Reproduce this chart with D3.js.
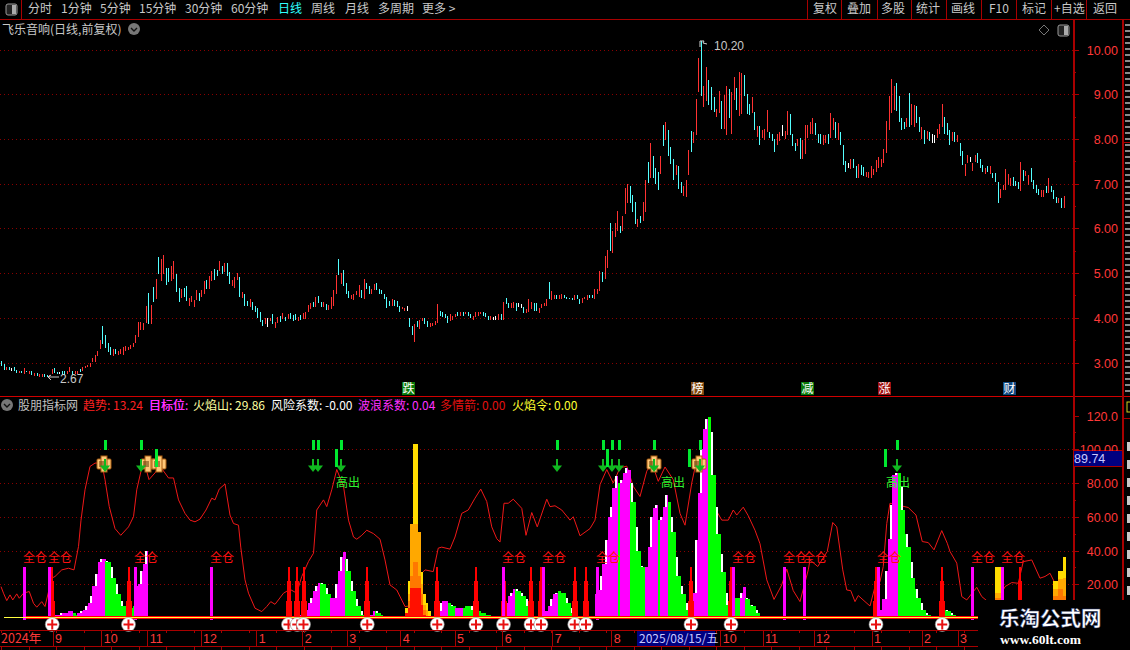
<!DOCTYPE html>
<html>
<head>
<meta charset="utf-8">
<script src="https://cdn.jsdelivr.net/npm/d3@7"></script>
<style>
  html, body { margin: 0; padding: 0; background: #000; overflow: hidden; }
  svg { display: block; }
  text { font-family: "Noto Sans CJK SC", "Liberation Sans", sans-serif; }
  .num { font-family: "Liberation Sans", sans-serif; }
</style>
</head>
<body>
<script>
// daily bars, 10 per row
const candleHigh = [
  3.03,2.97,2.90,2.90,2.87,2.89,2.83,2.81,2.81,2.87,
  2.82,2.81,2.81,2.76,2.76,2.74,2.74,2.74,2.72,2.72,
  2.85,2.87,2.78,2.78,2.81,2.81,2.81,2.90,2.81,2.81,
  2.81,2.85,2.90,2.92,2.94,2.99,3.09,3.16,3.25,3.50,
  3.82,3.61,3.43,3.34,3.30,3.30,3.25,3.30,3.34,3.37,
  3.34,3.39,3.43,3.61,3.91,3.91,3.88,4.27,4.56,4.29,
  4.69,4.87,5.37,5.32,5.41,5.12,5.12,5.16,5.28,4.99,
  4.67,4.65,4.67,4.72,4.45,4.49,4.40,4.63,4.56,4.63,
  4.83,4.85,4.94,5.05,5.09,5.07,5.28,5.16,5.23,5.23,
  5.03,4.85,4.92,5.01,4.92,4.58,4.54,4.38,4.42,4.36,
  4.27,4.22,4.13,3.95,4.00,4.00,4.00,4.09,3.91,4.02,
  4.04,4.11,4.02,4.09,4.11,4.06,4.09,4.02,4.06,4.11,
  4.13,4.29,4.33,4.36,4.47,4.49,4.36,4.36,4.31,4.29,
  4.47,4.63,4.96,5.32,5.01,5.07,4.78,4.60,4.51,4.54,
  4.60,4.74,4.63,4.87,4.78,4.72,4.65,4.76,4.78,4.65,
  4.62,4.54,4.47,4.37,4.41,4.39,4.37,4.26,4.25,4.23,
  4.27,3.99,3.81,3.85,3.92,3.94,3.99,3.99,3.92,3.88,
  3.88,3.92,4.30,4.16,4.12,4.08,4.03,4.08,4.05,4.08,
  4.14,4.14,4.14,4.14,4.14,4.08,4.03,4.12,4.14,4.14,
  4.14,4.10,4.05,4.05,4.01,4.05,4.08,4.08,4.36,4.45,
  4.34,4.32,4.36,4.32,4.34,4.30,4.25,4.19,4.43,4.36,
  4.32,4.32,4.23,4.30,4.32,4.41,4.81,4.61,4.52,4.52,
  4.50,4.54,4.52,4.47,4.45,4.45,4.50,4.50,4.43,4.45,
  4.47,4.50,4.50,4.50,4.65,4.65,5.05,5.03,5.38,5.52,
  6.11,5.95,6.13,6.39,6.05,6.27,6.91,7.00,6.95,6.74,
  6.59,6.20,6.27,6.59,7.08,7.48,7.90,7.62,7.34,7.26,
  7.62,8.31,8.38,8.20,7.81,7.56,7.41,7.39,7.04,6.95,
  7.08,7.75,8.17,8.16,8.90,9.81,10.20,9.18,9.61,9.31,
  9.17,8.94,8.66,9.07,8.85,8.98,9.18,9.11,9.05,9.39,
  9.15,9.49,9.48,9.43,9.00,8.78,8.94,8.60,8.29,8.29,
  8.20,8.23,8.64,8.16,8.11,7.99,8.12,8.16,8.32,8.17,
  8.62,8.55,8.11,7.90,8.00,8.03,7.97,8.31,8.31,8.38,
  8.47,8.36,8.12,8.11,8.09,8.09,8.12,8.57,8.46,8.38,
  8.35,8.15,7.86,7.50,7.47,7.54,7.55,7.39,7.45,7.41,
  7.38,7.27,7.27,7.39,7.32,7.53,7.60,7.56,7.77,8.41,
  8.96,9.35,9.18,9.26,8.96,8.46,8.38,8.46,9.02,8.79,
  8.76,8.73,8.48,8.26,8.20,8.17,8.16,8.11,8.09,8.22,
  8.33,8.78,8.48,8.35,8.20,8.15,8.15,8.09,7.90,7.73,
  7.45,7.64,7.59,7.47,7.64,7.68,7.54,7.41,7.36,7.39,
  7.39,7.23,7.23,7.03,6.87,6.97,7.33,7.21,7.12,7.15,
  7.06,7.03,7.48,7.30,7.29,7.19,7.35,7.08,6.98,6.89,
  6.86,6.86,6.95,7.12,6.95,6.86,6.71,6.69,6.67,6.72
];
const candleLow = [
  2.92,2.83,2.83,2.83,2.81,2.80,2.76,2.76,2.76,2.75,
  2.78,2.74,2.72,2.70,2.69,2.67,2.67,2.67,2.68,2.67,
  2.74,2.76,2.74,2.74,2.72,2.72,2.74,2.78,2.72,2.74,
  2.74,2.78,2.81,2.87,2.89,2.90,3.01,3.01,3.14,3.30,
  3.41,3.32,3.23,3.16,3.14,3.19,3.16,3.19,3.16,3.25,
  3.28,3.30,3.34,3.43,3.58,3.73,3.73,3.88,3.86,3.86,
  4.36,4.42,4.99,4.83,4.99,4.74,4.81,4.83,4.87,4.58,
  4.36,4.45,4.47,4.38,4.27,4.36,4.24,4.40,4.38,4.47,
  4.54,4.65,4.65,4.83,4.85,4.94,5.05,4.99,5.03,4.94,
  4.76,4.72,4.67,4.85,4.47,4.45,4.27,4.27,4.24,4.18,
  4.13,4.00,3.91,3.82,3.86,3.79,3.93,3.86,3.77,3.88,
  3.91,3.97,3.93,3.97,3.97,3.93,3.95,3.93,3.95,3.97,
  3.97,4.13,4.20,4.24,4.24,4.33,4.24,4.24,4.18,4.18,
  4.20,4.27,4.54,4.96,4.76,4.72,4.54,4.45,4.42,4.40,
  4.51,4.47,4.45,4.42,4.65,4.54,4.54,4.63,4.63,4.54,
  4.53,4.43,4.23,4.27,4.27,4.26,4.25,4.14,4.19,4.16,
  4.16,3.79,3.61,3.45,3.80,3.76,3.92,3.85,3.79,3.79,
  3.81,3.83,3.88,4.05,4.01,3.99,3.88,3.92,3.96,4.01,
  4.03,4.05,4.05,4.08,4.03,3.99,3.96,4.01,4.03,4.08,
  4.05,4.01,3.96,3.94,3.94,3.94,3.94,3.96,3.94,4.30,
  4.21,4.23,4.23,4.16,4.25,4.23,4.10,4.10,4.12,4.19,
  4.16,4.16,4.10,4.21,4.26,4.27,4.41,4.39,4.43,4.43,
  4.41,4.43,4.45,4.43,4.41,4.39,4.39,4.43,4.30,4.32,
  4.41,4.39,4.45,4.45,4.43,4.54,4.61,4.81,4.87,5.12,
  5.50,5.45,5.80,5.95,5.90,5.95,6.33,6.56,6.57,6.37,
  6.10,6.04,6.11,6.17,6.37,7.02,7.13,7.13,6.99,6.86,
  7.21,7.84,7.97,7.62,7.44,7.08,7.19,6.89,6.80,6.72,
  6.71,7.19,7.71,7.91,8.09,9.05,8.96,8.72,8.85,8.76,
  8.64,8.61,8.49,8.57,8.22,8.22,8.09,8.46,8.11,8.87,
  8.64,8.51,8.55,8.97,8.55,8.53,8.58,8.20,8.05,7.86,
  8.03,7.97,8.16,8.01,7.95,7.71,7.86,7.96,8.06,7.99,
  8.09,8.09,7.84,7.74,7.84,7.56,7.54,7.66,8.03,8.11,
  8.11,8.09,7.90,7.88,7.86,7.90,7.88,8.03,8.20,8.03,
  7.97,7.86,7.41,7.27,7.34,7.32,7.34,7.13,7.13,7.19,
  7.18,7.15,7.13,7.13,7.19,7.27,7.34,7.38,7.47,7.68,
  8.20,8.57,8.64,8.63,8.38,8.20,8.22,8.27,8.27,8.31,
  8.27,8.35,8.16,7.99,7.88,7.99,7.96,7.90,7.90,8.02,
  8.11,8.27,8.11,8.09,7.86,7.95,7.94,7.94,7.62,7.41,
  7.17,7.47,7.48,7.28,7.49,7.47,7.34,7.27,7.21,7.25,
  7.21,7.12,7.03,6.57,6.68,6.86,6.86,6.97,6.95,6.95,
  6.95,6.89,6.83,7.06,7.18,6.97,7.03,6.89,6.80,6.74,
  6.71,6.71,6.78,6.78,6.82,6.65,6.56,6.56,6.46,6.46
];
// r = up, c = down, w = doji
const candleDir = [
  'ccrcwccrcr','crcrcrrccr','rccwccrrcr','rcrrrrrrrr','ccccrcrrrr','rrrrrrrrcr','crcrrccrrc',
  'crccrrrrcr','rcrrccrcrc','crrrcrccrc','ccccrwrcrr','crcrcccrcr','rrrcrccrcr','rrrcrcccrr',
  'rrcrccrrcc','ccccrcccrr','wccrcrrccr','rrrccccrrr','crcrccrrrr','cccrwwrcrc','crrcwwcrrr',
  'ccrrrrcrrc','rrccccrccr','rrccrrrcrr','crrrcrrrcc','crcrrcrccc','rcrcccrccr','rrcrrrcrrc',
  'ccrrcrrcrr','crrcccrcrc','rrrcccrrwr','rcccrcrrrr','rcccrrcrrc','rcccwrccrc','crrrrrrrrr',
  'rrrccccrcr','rccrcrcwwr','rrcccrcrcc','rrwrrcccrc','rcccrrrrrc','ccrcrrcccc','rrcrcccrcr'
].join('');

const priceTicks = [3, 4, 5, 6, 7, 8, 9, 10];
const indicatorTicks = [20, 40, 60, 80, 100, 120];

// trend line: session, value
const trendSession = [0,1,2.3,3.6,4.7,6.3,7.3,9,11.3,13,14.3,16.3,17.6,20.3,21.6,24.3,27,29.2,31,32,33.6,35.6,37.6,40.3,41.6,43.3,45.6,47.9,51,53,54.3,56.3,57.9,59.2,61.6,63.6,67,69,71,73.6,75.6,77.6,79.6,82,84.3,85.6,87.3,89.6,91.6,93,95,95.9,97.6,99,101.6,104.3,106.3,107.9,109.6,113,115.6,118.3,120.3,123,125,126.3,129,130.3,132.3,134.3,137,139,141,142.3,144.3,146.3,149,151.6,153.6,155.6,158.3,161.6,164.3,168.3,169.6,172.9,174.9,176.3,179.6,181.6,184.3,186.9,189.6,191.9,194.3,196.3,198.3,199.6,201.2,202.9,204.9,208.3,210,212.3,214.5,218.3,219.6,221.6,224.3,227.6,228.9,231.6,235.6,237.6,239.6,242.3,244.9,247.6,250.3,252.9,255.6,258.3,260.3,262.9,265.6,268.9,271.6,273.6,276.3,278.3,285.6,288.3,290.9,292.9,294.3,296.9,298.9,301.6,303.6,306.3,309.2,312.3,314.3,316.9,319.6,322.9,323.6,326.7,330.5,332.7,334.3,336.7,338.3,339.9,341.6,342.9,345.6,347.6,349.6,351.6,352.9,354.3,355.6,362.9,366,368.5,370.9,373.2,376.3,378.5,379.6,382.3,384.3,386.3,390.3,392.3,395.6,398,401.6,404.3,406.9,408.9,412.3,415.6,417.6,419.6,421.6];
const trendValue = [18.6,14.7,10.3,13.7,10.7,14.3,11.7,14.7,15.7,8.7,6.4,9.7,6.8,23.6,24.6,28.5,29.5,28.5,42.4,58,76,89.8,91.8,91.8,82,66,53,49,54,60,76,89,89,82,86,90,83,83,70,62,58,57,58.6,64,71,70,76.4,79.4,61,56,55,42,22.6,14.7,5.8,3.8,6.8,9.7,8.1,14.7,17,14.7,24.6,33.5,38.4,64,70,66,76,88,78,58,48,46.7,49,52,50,46.7,34.4,19.6,16.6,6.8,7.3,26.5,28.5,27.5,41.4,42,40.8,48,62,64,71,76.4,69,54,47,45,68,68,70.4,65,49,62.5,54,70.4,66,66.5,64,58,60,48.7,53,58,79,88,80,89,90,78,72,87,92,81,89.5,82,62,55,80,94,65,58,58,64,61,65.7,60.6,52,44,22.6,11,19.6,29,16.2,9.7,28.5,34.4,30.5,39.4,56.6,54,28.5,16.6,16.2,9.7,13.3,9.7,7.1,18.6,21.6,30.5,56,68,65.5,61,45.3,44.7,40.4,51.8,44.3,39.4,32.5,12.7,10.7,18.2,12.7,8.7,8,18.6,21,20.6,33.4,34.4,23.6,24.6,26.5,20.6];

// mountains: first session, heights, m = magenta, g = green
const mountainStart = [22, 31, 50, 120, 148, 174, 202, 218, 238, 258, 277, 294, 352, 378];
const mountainValues = [
  [2,2,3,3,3,4,4,3,2,2,1],
  [3,4,5,7,9,13,19,26,33,35,35,34,33,30,24,20,14,10,7],
  [6,6,6,7,19,20,28,32,40],
  [2,3,5,9,12,16,19,21,21,20,18,14,12,12,20,28,36,39,35,28,22,16,11,7,4,2,1],
  [2,4,4,3,2],
  [3,4,9,10,10,9,8,7,6,6,6,6,7,7,7,5,4,4,3,3,2,2,1],
  [9,13,15,17,17,16,15,13,11,7,2],
  [4,7,11,14,15,16,15,15,12,9,6,3],
  [14,16.6,24.6,32,46,60,66,77,84,80,82,86,89,88,80,69,54,40,31,30],
  [30,42,60,65,67,58,60,66,73,69,60,51,36,25,19,14,9,5],
  [15,46,74,100,112,118,119,110,85,66,50,38,27,15,8,4,2],
  [12,12,15,18.5,12,11,8,7,5,3,1],
  [5,11,28,47,67,85,86,86,78,64,50,42,33,24,17,12,9,5,3,2,1],
  [5,4,3,2,1]
];
const mountainColor = [
  'mmmmmmmgggm',
  'mmmmmmmmmmmgggggggg',
  'ggggmmmmm',
  'mmmmmmmmggggmmmmmmggggggggg',
  'mmggg',
  'mmmmmgggmmmgggggggggggg',
  'mmmmggggggg',
  'mmmmmggggggg',
  'mmmmmmmmmgmmmmgggggg',
  'mmmmmgmmmggggggggg',
  'mmmmmmggggggggggg',
  'ggmmggggggg',
  'mmmmmmmgggggggggggggg',
  'ggggg'
];

// flame columns
const flameSession = [162,163,164,165,166,167,168,169,170,171,398,399,421,422,423,424,425];
const flameYellow = [6,22,56,103,103,51,27,14,9,4,30,30,22,22,28,28,36];
const flameOrange = [0,14,56,56,56,51,20,8,5,0,15,15,17,17,23,23,24];
const flameDeep = [0,10,25,33,33,25,14,5,0,0,12,12,13,13,17,17,13];
const flameRed = [3,6,18,18,18,18,8,2,0,0,0,0,0,0,0,0,0];

const buySessions = [20.5,51,115,118.5,121,146.5,174.5,190,201,212,216,229.5,234,276,292,350,376.5,407.5];
const fullSessions = [9.2,19.2,53.6,84,200.8,216.8,238.4,292.8,313.2,321.2,350.8,388.4,400.4];
const arrowSessions = [41.6,56,124.8,126.8,136,222.4,241,244.4,247.2,261,279.6,358.4];
const longMarkSessions = [62,134,242.4,275,353.6];
const bookSessions = [41,58.6,63.2,261,279];
const highOutSessions = [134, 264, 354];

const spikeLevels = [30, 22, 10];

const monthLabels = ['9','10','11','12','1','2','3','4','5','6','7','8','10','11','12','1','2','3'];
const monthPos = [53,101.7,147.7,201,256.7,302.7,347.3,400.7,455,502.7,552.7,611.7,720.7,763,814,872,922,958];

const leftTools = ['分时','1分钟','5分钟','15分钟','30分钟','60分钟','日线','周线','月线','多周期','更多 >'];
const leftToolX = [28,61,100,139,185,231,278,311,345,378,422];
const rightTools = ['复权','叠加','多股','统计','画线','F10','标记','+自选','返回'];
const rightToolX = [813,847,881,916,951,989,1022,1054,1093];
const rightToolSep = [807.5,841.5,877,911,946,981,1016,1051,1086];

const legendNames = ['趋势','目标位','火焰山','风险系数','波浪系数','多情箭','火焰令'];
const legendValues = ['13.24','29.86','-0.00','0.04','0.00','0.00'];
const legendText = ['趋势: 13.24','目标位:','火焰山: 29.86','风险系数: -0.00','波浪系数: 0.04','多情箭: 0.00','火焰令: 0.00'];
const legendX = [83,149,193,271,358,440,512];
const legendColor = ['#ff2020','#ff30ff','#ffffa0','#ffffff','#ff30ff','#e01010','#ffff30'];

const eventNames = ['跌','榜','减','涨','财'];
const eventX = [408,697,807,884,1009];
const eventColor = ['#0a7a0a','#804810','#0a7a0a','#a01010','#104880'];

const W = 1130, H = 650;
const axisX = 1073;
const darkRed = '#a80000';
const tickRed = '#ff3838';

const svg = d3.select('body').append('svg').attr('width', W).attr('height', H);
svg.append('rect').attr('width', W).attr('height', H).attr('fill', '#000');

const x = d3.scaleLinear().domain([0, candleHigh.length - 1]).range([1, 1063.5]);
const xi = d3.scaleLinear().domain([0, 425]).range([1, 1063.5]);
const yPrice = d3.scaleLinear().domain([3, 10]).range([362.5, 49.5]);
const yInd = d3.scaleLinear().domain([0, 120]).range([618, 415.5]);

// grids
svg.append('g').selectAll('line').data(priceTicks).enter().append('line')
  .attr('x1', 0).attr('x2', axisX)
  .attr('y1', d => Math.round(yPrice(d)) + 0.5).attr('y2', d => Math.round(yPrice(d)) + 0.5)
  .attr('stroke', '#8a0000').attr('stroke-dasharray', '1,3');
svg.append('g').selectAll('line').data(indicatorTicks.slice(0, 5)).enter().append('line')
  .attr('x1', 0).attr('x2', axisX)
  .attr('y1', d => Math.round(yInd(d)) + 0.5).attr('y2', d => Math.round(yInd(d)) + 0.5)
  .attr('stroke', '#8a0000').attr('stroke-dasharray', '1,3');

// candles
const dirColor = { r: '#ff3232', c: '#54ffff', w: '#ffffff' };
svg.append('g').attr('shape-rendering', 'crispEdges').selectAll('rect')
  .data(candleHigh).enter().append('rect')
  .attr('x', (d, i) => Math.round(x(i)))
  .attr('width', 1)
  .attr('y', d => yPrice(d))
  .attr('height', (d, i) => Math.max(1, yPrice(candleLow[i]) - yPrice(d)))
  .attr('fill', (d, i) => dirColor[candleDir[i]]);

// trend line under the mountains
const trendLine = d3.line().x(d => xi(d[0])).y(d => yInd(d[1]));
svg.append('path')
  .datum(trendSession.map((s, i) => [s, trendValue[i]]))
  .attr('d', trendLine)
  .attr('fill', 'none').attr('stroke', '#f01818').attr('stroke-width', 1);

// mountains with white caps
const mountains = svg.append('g').attr('shape-rendering', 'crispEdges');
mountainValues.forEach((vals, m) => {
  vals.forEach((v, k) => {
    const s = mountainStart[m] + k;
    const px = Math.round(xi(s)) - 1;
    mountains.append('rect').attr('x', px).attr('width', 3)
      .attr('y', yInd(v)).attr('height', yInd(0) - yInd(v))
      .attr('fill', mountainColor[m][k] === 'm' ? '#ff00ff' : '#00ff00');
    const rising = mountainColor[m][k] === 'm';
    const neighbour = rising ? vals[k - 1] : vals[k + 1];
    if (s % 2 === 0 && neighbour !== undefined && neighbour < v) {
      mountains.append('rect').attr('x', px + (rising ? 0 : 1)).attr('width', 2)
        .attr('y', yInd(v)).attr('height', yInd(neighbour) - yInd(v))
        .attr('fill', '#fff');
    }
  });
});

// flames
[[flameYellow, '#ffdc00'], [flameOrange, '#ffa800'], [flameDeep, '#ff7800'], [flameRed, '#ff1000']].forEach(([vals, c]) => {
  svg.append('g').attr('shape-rendering', 'crispEdges').selectAll('rect')
    .data(vals).enter().append('rect')
    .attr('x', (d, i) => Math.round(xi(flameSession[i])) - 1)
    .attr('width', 3)
    .attr('y', d => yInd(d))
    .attr('height', d => yInd(0) - yInd(d))
    .attr('fill', c);
});

// red spikes
const spikes = svg.append('g').attr('shape-rendering', 'crispEdges');
buySessions.forEach(s => {
  spikeLevels.forEach((v, l) => {
    const w = 2 + l * 2;
    spikes.append('rect')
      .attr('x', Math.round(xi(s) - w / 2)).attr('width', w)
      .attr('y', yInd(v)).attr('height', yInd(0) - yInd(v))
      .attr('fill', '#ff0000');
  });
});

// full position sticks + labels
svg.append('g').attr('shape-rendering', 'crispEdges').selectAll('rect')
  .data(fullSessions).enter().append('rect')
  .attr('x', d => Math.round(xi(d)) - 1).attr('width', 3)
  .attr('y', yInd(30)).attr('height', yInd(-1) - yInd(30))
  .attr('fill', '#ff00ff');
svg.append('g').selectAll('text').data(fullSessions).enter().append('text')
  .attr('x', d => Math.round(xi(d)) - 1).attr('y', 562)
  .attr('font-size', 12).attr('fill', '#ff1010')
  .text('全仓');

// base line
const base = svg.append('g').attr('shape-rendering', 'crispEdges');
base.append('rect').attr('x', 4).attr('y', 617).attr('width', 22).attr('height', 1).attr('fill', '#ffff40');
base.append('rect').attr('x', 26).attr('y', 616).attr('width', 952).attr('height', 3).attr('fill', '#ff0000');
base.append('rect').attr('x', 26).attr('y', 617).attr('width', 952).attr('height', 1).attr('fill', '#ffff40');

// plus markers
const plus = svg.append('g').selectAll('g').data(buySessions).enter().append('g')
  .attr('transform', d => `translate(${xi(d)},624.5)`);
plus.append('circle').attr('r', 7).attr('fill', '#fff').attr('stroke', '#888').attr('stroke-width', 0.6);
plus.append('rect').attr('x', -5).attr('y', -1).attr('width', 10).attr('height', 2).attr('fill', '#e81010');
plus.append('rect').attr('x', -1).attr('y', -5).attr('width', 2).attr('height', 10).attr('fill', '#e81010');

// book icons
const book = svg.append('g').selectAll('g').data(bookSessions).enter().append('g')
  .attr('transform', d => `translate(${Math.round(xi(d))},464)`);
book.append('rect').attr('x', -7).attr('y', -5).attr('width', 14).attr('height', 10).attr('rx', 1).attr('fill', '#ffc878').attr('stroke', '#a85c10');
book.append('rect').attr('x', -3).attr('y', -8).attr('width', 6).attr('height', 16).attr('fill', '#ffc878').attr('stroke', '#a85c10');
book.append('path').attr('d', 'M-5,-2H1M-5,0H1M-5,2H1').attr('stroke', '#5a3000').attr('fill', 'none');

// green marks and arrows
const greens = svg.append('g').attr('shape-rendering', 'crispEdges');
arrowSessions.forEach(s => {
  const px = Math.round(xi(s));
  greens.append('rect').attr('x', px - 1).attr('y', 440).attr('width', 3).attr('height', 10).attr('fill', '#00e830');
  greens.append('rect').attr('x', px - 1).attr('y', 459).attr('width', 2).attr('height', 7).attr('fill', '#10b820');
  greens.append('path').attr('d', `M${px - 5},465.5H${px + 5}L${px},472Z`).attr('fill', '#10b820').attr('shape-rendering', 'auto');
});
longMarkSessions.forEach(s => {
  greens.append('rect').attr('x', Math.round(xi(s)) - 1).attr('y', 449).attr('width', 3).attr('height', 18).attr('fill', '#00e830');
});
svg.append('g').selectAll('text').data(highOutSessions).enter().append('text')
  .attr('x', d => xi(d)).attr('y', 487)
  .attr('font-size', 12).attr('fill', '#30f030')
  .text('高出');

// extremes
svg.append('path').attr('d', 'M700,41V47M700,41H704L703,43L707,44').attr('fill', 'none').attr('stroke', '#d0d0d0');
svg.append('text').attr('class', 'num').attr('x', 714).attr('y', 50).attr('font-size', 12).attr('fill', '#c8c8c8').text('10.20');
svg.append('path').attr('d', 'M48,377H59M48,377L51,375M48,377L51,380').attr('fill', 'none').attr('stroke', '#c8c8c8');
svg.append('text').attr('class', 'num').attr('x', 60).attr('y', 383).attr('font-size', 12).attr('fill', '#c8c8c8').text('2.67');

// event badges
eventNames.forEach((t, i) => {
  svg.append('rect').attr('x', eventX[i] - 6).attr('y', 382).attr('width', 13).attr('height', 13).attr('fill', eventColor[i]);
  svg.append('text').attr('x', eventX[i] + 0.5).attr('y', 393).attr('text-anchor', 'middle').attr('font-size', 12).attr('fill', '#fff').text(t);
});

// toolbar
const frame = svg.append('g').attr('shape-rendering', 'crispEdges');
frame.append('line').attr('x1', 0).attr('x2', W).attr('y1', 19.5).attr('y2', 19.5).attr('stroke', darkRed);
frame.append('line').attr('x1', 21.5).attr('x2', 21.5).attr('y1', 0).attr('y2', 19).attr('stroke', darkRed);
rightToolSep.forEach(v => frame.append('line').attr('x1', v).attr('x2', v).attr('y1', 0).attr('y2', 19).attr('stroke', darkRed));
svg.append('rect').attr('x', 6).attr('y', 4).attr('width', 11).attr('height', 11).attr('rx', 2).attr('fill', '#222').attr('stroke', '#999');
svg.append('rect').attr('x', 12).attr('y', 5).attr('width', 4).attr('height', 9).attr('fill', '#aaa');
leftTools.forEach((t, i) => {
  svg.append('text').attr('x', leftToolX[i]).attr('y', 13).attr('font-size', 12)
    .attr('fill', t === '日线' ? '#30ffff' : '#c8c8c8').text(t);
});
rightTools.forEach((t, i) => {
  svg.append('text').attr('x', rightToolX[i]).attr('y', 13).attr('font-size', 12).attr('fill', '#c8c8c8').text(t);
});

// titles
svg.append('text').attr('x', 2).attr('y', 34).attr('font-size', 12).attr('fill', '#c8c8c8').text('飞乐音响(日线,前复权)');
function roundIcon(cx, cy) {
  svg.append('circle').attr('cx', cx).attr('cy', cy).attr('r', 6).attr('fill', '#777');
  svg.append('path').attr('d', `M${cx - 3},${cy - 1}L${cx},${cy + 2}L${cx + 3},${cy - 1}`).attr('fill', 'none').attr('stroke', '#111').attr('stroke-width', 1.4);
}
roundIcon(134, 29);
roundIcon(7, 405);
svg.append('path').attr('d', 'M1044,25L1049,30L1044,35L1039,30Z').attr('fill', 'none').attr('stroke', '#777');
svg.append('rect').attr('x', 1058).attr('y', 25).attr('width', 11).attr('height', 11).attr('rx', 2).attr('fill', '#222').attr('stroke', '#999');
svg.append('rect').attr('x', 1064).attr('y', 26).attr('width', 4).attr('height', 9).attr('fill', '#aaa');

svg.append('text').attr('x', 18).attr('y', 410).attr('font-size', 12).attr('fill', '#c0c0c0').text('股朋指标网');
legendText.forEach((t, i) => {
  svg.append('text').attr('x', legendX[i]).attr('y', 410).attr('font-size', 12).attr('fill', legendColor[i]).text(t);
});
svg.append('text').attr('x', 149).attr('y', 410).attr('font-size', 12).attr('fill', '#ff30ff').text('目标位');

// panel frame and price axes
frame.append('line').attr('x1', 0).attr('x2', W).attr('y1', 396.5).attr('y2', 396.5).attr('stroke', '#d00000');
frame.append('line').attr('x1', axisX + 0.5).attr('x2', axisX + 0.5).attr('y1', 20).attr('y2', 600).attr('stroke', darkRed).attr('stroke-width', 2);
frame.append('line').attr('x1', 1122.5).attr('x2', 1122.5).attr('y1', 20).attr('y2', 600).attr('stroke', darkRed).attr('stroke-width', 2);

const upperAxis = d3.axisRight(yPrice).tickValues(d3.range(3, 10.5, 0.5)).tickSize(0).tickFormat('');
svg.append('g').call(upperAxis).call(g => g.select('.domain').remove());
d3.range(3, 10.5, 0.5).forEach(v => {
  const major = Number.isInteger(v);
  frame.append('line').attr('x1', axisX).attr('x2', axisX + (major ? 6 : 3))
    .attr('y1', Math.round(yPrice(v)) + 0.5).attr('y2', Math.round(yPrice(v)) + 0.5).attr('stroke', darkRed);
});
priceTicks.forEach(v => {
  svg.append('text').attr('class', 'num').attr('x', 1118).attr('y', yPrice(v) + 5)
    .attr('text-anchor', 'end').attr('font-size', 12.5).attr('fill', tickRed).text(v.toFixed(2));
});
d3.range(10, 130, 10).forEach(v => {
  const major = v % 20 === 0;
  frame.append('line').attr('x1', axisX).attr('x2', axisX + (major ? 6 : 3))
    .attr('y1', Math.round(yInd(v)) + 0.5).attr('y2', Math.round(yInd(v)) + 0.5).attr('stroke', darkRed);
});
indicatorTicks.forEach(v => {
  svg.append('text').attr('class', 'num').attr('x', 1118).attr('y', yInd(v) + 5)
    .attr('text-anchor', 'end').attr('font-size', 12.5).attr('fill', tickRed)
    .text(v === 120 ? '120.0' : v.toFixed(2));
});

// current value label
svg.append('rect').attr('x', 1074).attr('y', 451).attr('width', 48).attr('height', 15).attr('fill', '#000080');
frame.append('line').attr('x1', 1074).attr('x2', 1122).attr('y1', 450.5).attr('y2', 450.5).attr('stroke', darkRed);
frame.append('line').attr('x1', 1074).attr('x2', 1122).attr('y1', 466).attr('y2', 466).attr('stroke', darkRed);
svg.append('text').attr('class', 'num').attr('x', 1074).attr('y', 463).attr('font-size', 12.5).attr('fill', '#c8c8ff').text('89.74');

// right strip
d3.range(24, 396, 6).forEach(v => {
  frame.append('rect').attr('x', 1125).attr('y', v).attr('width', 5).attr('height', 2).attr('fill', '#8a8a8a');
});
frame.append('line').attr('x1', 1123).attr('x2', W).attr('y1', 142.5).attr('y2', 142.5).attr('stroke', darkRed);
svg.append('rect').attr('x', 1127).attr('y', 402).attr('width', 4).attr('height', 10).attr('fill', 'none').attr('stroke', '#d0d020');
frame.append('line').attr('x1', 1123).attr('x2', W).attr('y1', 418.5).attr('y2', 418.5).attr('stroke', darkRed);
d3.range(442, 600, 18).forEach(v => {
  frame.append('rect').attr('x', 1127).attr('y', v).attr('width', 3).attr('height', 9).attr('fill', '#c8c8c8');
});

// date axis
frame.append('line').attr('x1', 0).attr('x2', 978).attr('y1', 630.5).attr('y2', 630.5).attr('stroke', darkRed);
frame.append('line').attr('x1', 0).attr('x2', 978).attr('y1', 646.5).attr('y2', 646.5).attr('stroke', darkRed);
d3.range(0, 425, 11).forEach(s => {
  frame.append('line').attr('x1', Math.round(xi(s)) + 0.5).attr('x2', Math.round(xi(s)) + 0.5).attr('y1', 630).attr('y2', 633).attr('stroke', darkRed);
  frame.append('line').attr('x1', Math.round(xi(s)) + 0.5).attr('x2', Math.round(xi(s)) + 0.5).attr('y1', 646).attr('y2', 650).attr('stroke', darkRed);
});
monthPos.forEach((v, i) => {
  frame.append('line').attr('x1', v).attr('x2', v).attr('y1', 630).attr('y2', 646).attr('stroke', darkRed);
  svg.append('text').attr('class', 'num').attr('x', v + 2).attr('y', 643).attr('font-size', 12.5).attr('fill', tickRed).text(monthLabels[i]);
});
svg.append('text').attr('x', 1).attr('y', 643).attr('font-size', 12.5).attr('fill', tickRed).text('2024年');
svg.append('rect').attr('x', 637).attr('y', 631).attr('width', 78).attr('height', 15).attr('fill', '#000080');
svg.append('text').attr('x', 639).attr('y', 643).attr('font-size', 12).attr('fill', '#c8c8ff').text('2025/08/15/五');

// watermark box sits over the panel corner
svg.append('rect').attr('x', 978).attr('y', 600).attr('width', 152).attr('height', 50).attr('fill', '#000');
svg.append('text').attr('x', 999).attr('y', 626).attr('font-size', 20.5).attr('font-weight', 700)
  .attr('fill', '#fff').attr('stroke', '#203070').attr('stroke-width', 0.4).text('乐淘公式网');
svg.append('text').attr('x', 1000).attr('y', 644).style('font-family', '"Liberation Serif", serif')
  .attr('font-size', 13.5).attr('font-weight', 700).attr('fill', '#fff').text('www.60lt.com');
</script>
</body>
</html>
